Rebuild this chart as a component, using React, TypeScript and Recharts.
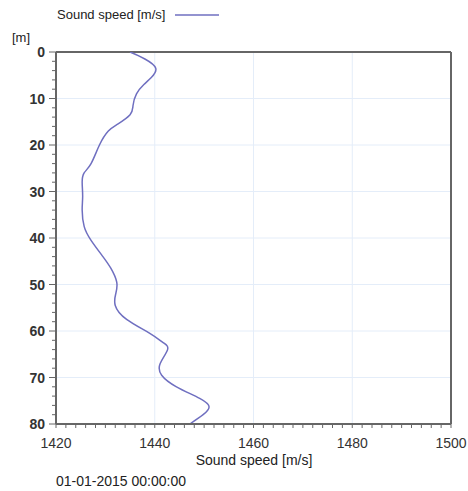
import React from "react";
import { LineChart, Line, XAxis, YAxis, ReferenceLine } from "recharts";

const depths = [0, 1.5, 3.5, 5.5, 7, 9, 11.5, 13.5, 15.5, 17, 20, 24, 26, 28, 31, 34, 37.5, 40.5, 44, 46.5, 49.5, 52, 54.5, 57.5, 60.5, 62.5, 64, 67, 69.5, 72, 74.5, 76.3, 78, 80];
const speeds = [1435.0, 1438.0, 1440.2, 1439.3, 1437.8, 1436.3, 1435.6, 1435.0, 1432.5, 1430.6, 1428.8, 1427.1, 1425.7, 1425.3, 1425.4, 1425.3, 1425.7, 1427.1, 1429.5, 1431.1, 1432.3, 1432.1, 1432.0, 1434.3, 1439.0, 1441.7, 1442.6, 1441.1, 1441.4, 1444.4, 1449.1, 1451.0, 1449.8, 1447.1];

const yMajorLabels = [0, 10, 20, 30, 40, 50, 60, 70, 80];
const xMajorLabels = [1420, 1440, 1460, 1480, 1500];
const yMinorTicks = [0, 2, 4, 6, 8, 10, 12, 14, 16, 18, 20, 22, 24, 26, 28, 30, 32, 34, 36, 38, 40, 42, 44, 46, 48, 50, 52, 54, 56, 58, 60, 62, 64, 66, 68, 70, 72, 74, 76, 78, 80];
const xMinorTicks = [1420, 1422, 1424, 1426, 1428, 1430, 1432, 1434, 1436, 1438, 1440, 1442, 1444, 1446, 1448, 1450, 1452, 1454, 1456, 1458, 1460, 1462, 1464, 1466, 1468, 1470, 1472, 1474, 1476, 1478, 1480, 1482, 1484, 1486, 1488, 1490, 1492, 1494, 1496, 1498, 1500];
const yGrid = [10, 20, 30, 40, 50, 60, 70];
const xGrid = [1440, 1460, 1480];

const seriesName = "Sound speed [m/s]";
const xTitle = "Sound speed [m/s]";
const yUnit = "[m]";
const dateText = "01-01-2015 00:00:00";

const data = depths.map((d, i) => ({ depth: d, speed: speeds[i] }));

const FONT = "'Liberation Sans', Arial, sans-serif";
const LINE_COLOR = "#6f6fc0";
const FRAME = "#666";
const GRID = "#e4edf9";

const YTick = (props: any) => {
  const { x, y, payload } = props;
  const v = payload.value;
  const major = yMajorLabels.includes(v);
  return (
    <g>
      <line x1={x - (major ? 7 : 4)} x2={x} y1={y} y2={y} stroke={FRAME} strokeWidth={1} />
      {major && (
        <text x={x - 11} y={y} dy="0.36em" textAnchor="end" fontFamily={FONT} fontSize={14} fontWeight="bold" fill="#333">
          {v}
        </text>
      )}
    </g>
  );
};

const XTick = (props: any) => {
  const { x, y, payload } = props;
  const v = payload.value;
  const major = xMajorLabels.includes(v);
  return (
    <g>
      <line x1={x} x2={x} y1={y} y2={y + 4} stroke={FRAME} strokeWidth={1} />
      {major && (
        <text x={x} y={y + 24} textAnchor="middle" fontFamily={FONT} fontSize={14} fill="#333">
          {v}
        </text>
      )}
    </g>
  );
};

export default function App() {
  return (
    <div style={{ position: "absolute", left: 0, top: 0, width: 468, height: 491, background: "#fff" }}>
      <LineChart
        width={468}
        height={491}
        data={data}
        layout="vertical"
        margin={{ top: 52, right: 17, left: 0, bottom: 0 }}
      >
        {yGrid.map((g) => (
          <ReferenceLine key={"yg" + g} y={g} stroke={GRID} strokeWidth={1} />
        ))}
        {xGrid.map((g) => (
          <ReferenceLine key={"xg" + g} x={g} stroke={GRID} strokeWidth={1} />
        ))}
        <XAxis
          type="number"
          domain={[1420, 1500]}
          ticks={xMinorTicks}
          interval={0}
          height={67}
          tickSize={0}
          tickMargin={0}
          tickLine={false}
          axisLine={{ stroke: FRAME, strokeWidth: 2 }}
          tick={<XTick />}
          allowDataOverflow
        />
        <YAxis
          type="number"
          dataKey="depth"
          domain={[0, 80]}
          ticks={yMinorTicks}
          interval={0}
          width={56}
          tickSize={0}
          tickMargin={0}
          tickLine={false}
          axisLine={{ stroke: FRAME, strokeWidth: 2 }}
          tick={<YTick />}
          allowDataOverflow
        />
        <ReferenceLine y={0} stroke={FRAME} strokeWidth={2} />
        <ReferenceLine x={1500} stroke={FRAME} strokeWidth={2} />
        <Line
          dataKey="speed"
          type="natural"
          stroke={LINE_COLOR}
          strokeWidth={1.5}
          dot={false}
          isAnimationActive={false}
        />
      </LineChart>
      <div style={{ position: "absolute", left: 57, top: 7, fontFamily: FONT, fontSize: 13, color: "#222", whiteSpace: "nowrap", display: "flex", alignItems: "center" }}>
        <span>{seriesName}</span>
        <svg width={54} height={4} style={{ marginLeft: 10 }}>
          <line x1={0} x2={44} y1={2} y2={2} stroke={LINE_COLOR} strokeWidth={1.5} />
        </svg>
      </div>
      <div style={{ position: "absolute", left: 12, top: 30, fontFamily: FONT, fontSize: 13, color: "#222" }}>{yUnit}</div>
      <div style={{ position: "absolute", left: 0, width: 508, top: 452, textAlign: "center", fontFamily: FONT, fontSize: 14, color: "#222" }}>{xTitle}</div>
      <div style={{ position: "absolute", left: 56, top: 473, fontFamily: FONT, fontSize: 14, color: "#222", whiteSpace: "nowrap" }}>{dateText}</div>
    </div>
  );
}
